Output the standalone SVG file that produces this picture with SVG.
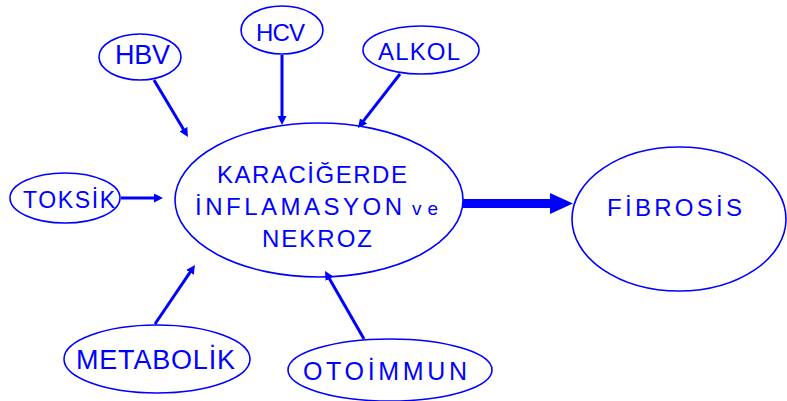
<svg xmlns="http://www.w3.org/2000/svg" width="787" height="401" viewBox="0 0 787 401">
<style>
.n ellipse{fill:#fff;stroke:#0000ff;stroke-width:1.6}
text{font-family:"Liberation Sans","DejaVu Sans",sans-serif;fill:#0000ff;font-size:24px;font-weight:normal}
.c line{stroke:#0000ff;stroke-width:3}
</style>
<defs>
<marker id="ah" markerUnits="userSpaceOnUse" markerWidth="10" markerHeight="10" refX="1" refY="4.5" orient="auto">
<path d="M0,0 L9,4.5 L0,9 z" fill="#0000ff"/>
</marker>
<marker id="bh" markerUnits="userSpaceOnUse" markerWidth="24" markerHeight="24" refX="1" refY="10.5" orient="auto">
<path d="M0,0 L23,10.5 L0,21 z" fill="#0000ff"/>
</marker>
</defs>
<rect width="787" height="401" fill="#fff"/>
<g class="n" id="main">
<ellipse cx="319" cy="200" rx="144" ry="77"/>
<text x="217" y="183" textLength="190" lengthAdjust="spacing">KARACİĞERDE</text>
<text x="195" y="215" textLength="207" lengthAdjust="spacing">İNFLAMASYON</text>
<text x="412" y="215" textLength="26" lengthAdjust="spacing" style="font-size:19px">ve</text>
<text x="262" y="247" textLength="110" lengthAdjust="spacing">NEKROZ</text>
</g>
<g class="n" id="fibrosis">
<ellipse cx="679" cy="219" rx="107" ry="72"/>
<text x="607" y="216" textLength="135" lengthAdjust="spacing">FİBROSİS</text>
</g>
<g class="n" id="hbv">
<ellipse cx="140" cy="57" rx="41" ry="23"/>
<text x="115" y="64" textLength="55" lengthAdjust="spacing" style="font-size:27px">HBV</text>
</g>
<g class="n" id="hcv">
<ellipse cx="282" cy="30" rx="41" ry="24"/>
<text x="256" y="41" textLength="49" lengthAdjust="spacing">HCV</text>
</g>
<g class="n" id="alkol">
<ellipse cx="421" cy="50" rx="58" ry="24"/>
<text x="378" y="60" textLength="82" lengthAdjust="spacing">ALKOL</text>
</g>
<g class="n" id="toksik">
<ellipse cx="65" cy="198" rx="55" ry="25"/>
<text x="23" y="208" textLength="92" lengthAdjust="spacing" style="font-size:23px">TOKSİK</text>
</g>
<g class="n" id="metabolik">
<ellipse cx="157" cy="359" rx="93" ry="34"/>
<text x="76" y="369" textLength="159" lengthAdjust="spacing" style="font-size:27px">METABOLİK</text>
</g>
<g class="n" id="otoimmun">
<ellipse cx="390" cy="370" rx="102" ry="31"/>
<text x="303" y="380" textLength="164" lengthAdjust="spacing" style="font-size:25px">OTOİMMUN</text>
</g>
<g class="c" id="connectors">
<line x1="154" y1="80" x2="183.9" y2="130.1" marker-end="url(#ah)"/>
<line x1="282" y1="55" x2="282" y2="117" marker-end="url(#ah)"/>
<line x1="400" y1="74" x2="362.9" y2="121.7" marker-end="url(#ah)"/>
<line x1="121" y1="198" x2="155" y2="198" marker-end="url(#ah)"/>
<line x1="155" y1="324" x2="190.5" y2="271.6" marker-end="url(#ah)"/>
<line x1="364" y1="339" x2="329" y2="277.9" marker-end="url(#ah)"/>
<line x1="463" y1="203.5" x2="551" y2="203.5" style="stroke-width:9" marker-end="url(#bh)"/>
</g>
</svg>
